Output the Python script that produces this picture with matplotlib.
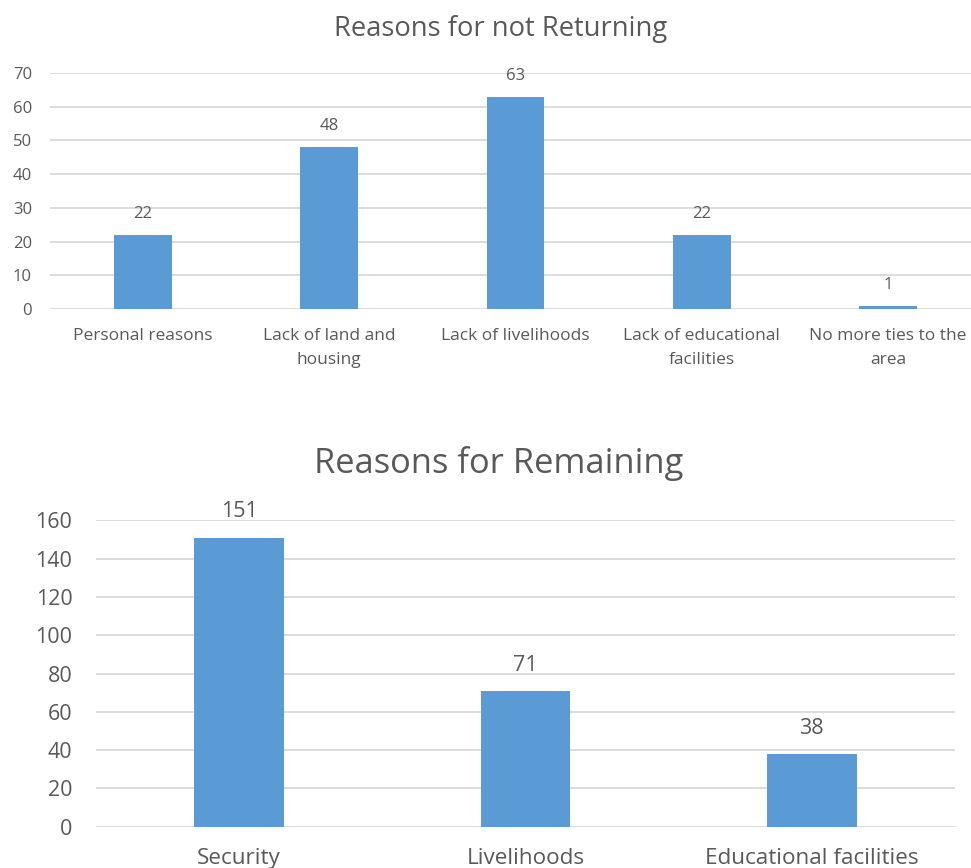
import matplotlib
matplotlib.use("Agg")
import matplotlib.pyplot as plt

# Data
not_returning_labels = ["Personal reasons", "Lack of land and\nhousing", "Lack of livelihoods",
                        "Lack of educational\nfacilities", "No more ties to the\narea"]
not_returning_values = [22, 48, 63, 22, 1]

remaining_labels = ["Security", "Livelihoods", "Educational facilities"]
remaining_values = [151, 71, 38]

BAR = "#5B9BD5"
GRID = "#D9D9D9"
TEXT = "#595959"
FONT = "Open Sans"

W, H = 971, 868
fig = plt.figure(figsize=(W / 100, H / 100), dpi=100)


def px_axes(left, right, top, bottom):
    return fig.add_axes([left / W, 1 - bottom / H, (right - left) / W, (bottom - top) / H])


def style(ax, ymax, step, tick_fs, pad):
    ax.set_ylim(0, ymax)
    ax.set_yticks(range(0, ymax + 1, step))
    for s in ax.spines.values():
        s.set_visible(False)
    ax.tick_params(axis="both", length=0, colors=TEXT)
    ax.tick_params(axis="y", labelsize=tick_fs, pad=pad)
    ax.yaxis.grid(True, color=GRID, linewidth=1.3)
    ax.set_axisbelow(True)
    for t in ax.get_yticklabels():
        t.set_fontfamily(FONT)


# Top chart
ax1 = px_axes(50, 981, 73, 309)
x1 = range(len(not_returning_values))
bars1 = ax1.bar(x1, not_returning_values, width=0.31, color=BAR)
ax1.set_xlim(-0.5, len(not_returning_values) - 0.5)
style(ax1, 70, 10, 12, 13)
ax1.set_xticks(list(x1))
ax1.set_xticklabels(not_returning_labels, fontsize=12.5, color=TEXT, fontfamily=FONT,
                    linespacing=1.68)
ax1.tick_params(axis="x", pad=13.5)
for b, v in zip(bars1, not_returning_values):
    ax1.annotate(str(v), (b.get_x() + b.get_width() / 2, v), xytext=(0, 15),
                 textcoords="offset points", ha="center", va="center",
                 fontsize=12, color=TEXT, fontfamily=FONT)
fig.text(501 / W, 1 - 29 / H, "Reasons for not Returning", ha="center", va="center",
         fontsize=19.7, color=TEXT, fontfamily=FONT)

# Bottom chart
ax2 = px_axes(96, 955, 520.3, 826.7)
x2 = range(len(remaining_values))
bars2 = ax2.bar(x2, remaining_values, width=0.314, color=BAR)
ax2.set_xlim(-0.5, len(remaining_values) - 0.5)
style(ax2, 160, 20, 15.5, 17)
ax2.set_xticks(list(x2))
ax2.set_xticklabels(remaining_labels, fontsize=16.2, color=TEXT, fontfamily=FONT)
ax2.tick_params(axis="x", pad=15)
for b, v in zip(bars2, remaining_values):
    ax2.annotate(str(v), (b.get_x() + b.get_width() / 2, v), xytext=(0, 18.5),
                 textcoords="offset points", ha="center", va="center",
                 fontsize=15.5, color=TEXT, fontfamily=FONT)
fig.text(499 / W, 1 - 463 / H, "Reasons for Remaining", ha="center", va="center",
         fontsize=24.8, color=TEXT, fontfamily=FONT)

fig.savefig("out.png", dpi=100)
